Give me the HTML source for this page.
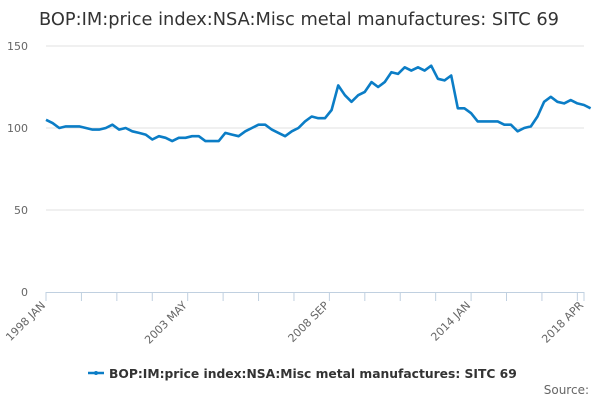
<!DOCTYPE html>
<html><head><meta charset="utf-8">
<style>
body{margin:0;background:#fff;}
svg{display:block;font-family:"DejaVu Sans","Liberation Sans",sans-serif;}
</style></head>
<body>
<svg id="chart" width="600" height="400">
<text x="299" y="25" text-anchor="middle" font-size="17.8" fill="#333">BOP:IM:price index:NSA:Misc metal manufactures: SITC 69</text>
<g id="grid"></g><g id="axes"></g><g id="series"></g>
<g>
<line x1="88" y1="373" x2="104" y2="373" stroke="#0b7dc6" stroke-width="2.5"/>
<circle cx="96" cy="373" r="2" fill="#0b7dc6"/>
<text x="109" y="378" font-size="12.3" font-weight="bold" fill="#333">BOP:IM:price index:NSA:Misc metal manufactures: SITC 69</text>
</g>
<text x="589" y="394" text-anchor="end" font-size="12" fill="#666">Source:</text>
</svg>
<script>
const values = [105,103,100,101,101,101,100,99,99,100,102,99,100,98,97,96,93,95,94,92,94,94,95,95,92,92,92,97,96,95,98,100,102,102,99,97,95,98,100,104,107,106,
106,111,126,120,116,120,122,128,125,128,134,133,137,135,137,135,138,130,129,132,112,112,109,104,104,104,104,102,102,98,100,101,107,116,119,116,115,117,115,114,112];
const stepMonths = 3;
const yTicks = [0,50,100,150];
const xLabels = ["1998 JAN","2003 MAY","2008 SEP","2014 JAN","2018 APR"];
const xLabelIdx = [0,64,128,192,243];
const totalMonths = 243;
const NS="http://www.w3.org/2000/svg";
const x0=46,x1=584,y0=292,yTop=46;
const xs=i=>x0+i*(x1-x0)/totalMonths;
const ys=v=>y0-v*(y0-yTop)/150;
function mk(t,a,p){const e=document.createElementNS(NS,t);for(const k in a)e.setAttribute(k,a[k]);p.appendChild(e);return e;}
const grid=document.getElementById('grid'),axes=document.getElementById('axes'),ser=document.getElementById('series');
yTicks.forEach(v=>{
 if(v>0){const g=mk('line',{x1:x0,x2:x1,y1:ys(v),y2:ys(v),stroke:'#e0e0e0','stroke-width':1},grid);
 
 }
 const t=mk('text',{x:28,y:ys(v)+4,'text-anchor':'end','font-size':11,fill:'#666'},axes);
 t.textContent=v;
 
 
});
const ax=mk('line',{x1:x0,x2:x1,y1:y0+0.5,y2:y0+0.5,stroke:'#c0d0e0','stroke-width':1},axes);


for(let m=0;m<=totalMonths;m+=16){mk('line',{x1:xs(m),x2:xs(m),y1:y0,y2:y0+9,stroke:'#c0d0e0'},axes);}
mk('line',{x1:xs(totalMonths),x2:xs(totalMonths),y1:y0,y2:y0+9,stroke:'#c0d0e0'},axes);
xLabels.forEach((l,k)=>{
 const x=xs(xLabelIdx[k]),y=y0+14;
 const t=mk('text',{x:x,y:y,'text-anchor':'end','font-size':11,fill:'#666',transform:`rotate(-45 ${x} ${y})`},axes);
 t.textContent=l;
 
 
});
const d=values.map((v,i)=>(i?'L':'M')+xs(i*stepMonths).toFixed(1)+','+ys(v).toFixed(1)).join('');
const p=mk('path',{d:d,fill:'none',stroke:'#0b7dc6','stroke-width':2.6,'stroke-linejoin':'round'},ser);


</script>
</body></html>
